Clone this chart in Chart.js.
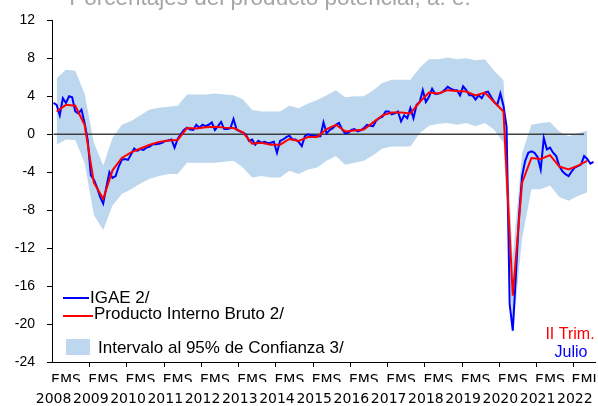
<!DOCTYPE html>
<html>
<head>
<meta charset="utf-8">
<script src="https://cdn.jsdelivr.net/npm/chart.js@4.4.1/dist/chart.umd.min.js"></script>
<style>
  html, body { margin: 0; padding: 0; background: #fff; }
  canvas { display: block; }
</style>
</head>
<body>
<canvas id="brecha" width="598" height="406"></canvas>
<script>
// Brecha del producto: IGAE mensual y PIB trimestral, ene-2008 a jul-2022

var anios = ['2008', '2009', '2010', '2011', '2012', '2013', '2014', '2015',
  '2016', '2017', '2018', '2019', '2020', '2021', '2022'];
var letrasMes = ['E', 'F', 'M', 'A', 'M', 'J', 'J', 'A', 'S', 'O', 'N', 'D'];

// IGAE, mensual
var igae = [
  3.3, 3.1, 2.0, 3.8, 3.3, 4.0, 3.9, 2.4, 2.2, 2.6, 1.2, -0.6,
  -4.3, -4.8, -5.6, -6.6, -7.3, -5.6, -4.0, -4.6, -4.4, -3.4, -2.7, -2.6,
  -2.7, -2.1, -1.5, -1.75, -1.55, -1.65, -1.4, -1.3, -1.05, -1.05, -1.0, -0.9,
  -0.7, -0.65, -0.55, -1.4, -0.5, 0.0, 0.45, 0.7, 0.5, 0.45, 1.0, 0.7,
  1.0, 0.85, 1.0, 1.25, 0.45, 0.85, 1.3, 0.55, 0.55, 0.65, 1.6, 0.5,
  0.3, 0.2, -0.05, -0.7, -0.55, -1.1, -0.7, -0.9, -0.8, -0.95, -0.9, -0.8,
  -1.95, -0.7, -0.55, -0.3, -0.15, -0.55, -0.55, -0.8, -1.25, -0.2, 0.0, -0.1,
  -0.15, -0.2, -0.2, 1.25, 0.1, 0.45, 0.65, 1.0, 1.2, 0.5, 0.1, 0.15,
  0.45, 0.55, 0.3, 0.4, 0.65, 1.0, 0.9, 0.85, 1.45, 1.7, 1.85, 2.4,
  2.4, 2.1, 2.2, 2.4, 1.35, 2.0, 1.7, 2.75, 1.7, 3.1, 3.4, 4.65,
  3.4, 3.95, 4.8, 4.25, 4.3, 4.4, 4.65, 5.0, 4.8, 4.65, 4.65, 4.1,
  5.05, 4.65, 4.1, 4.1, 3.65, 4.1, 3.8, 4.4, 4.5, 3.95, 3.4, 3.1,
  4.3, 3.0, 0.8, -17.9, -20.7, -14.9, -8.7, -4.4, -2.8, -1.95, -1.8, -1.95,
  -2.4, -3.7, -0.4, -1.6, -1.4, -1.95, -2.3, -3.35, -3.9, -4.2, -4.4, -3.9,
  -3.5, -3.35, -3.2, -2.3, -2.6, -3.1, -2.9
];

// PIB, trimestral (I-2008 a II-2022)
var pib = [
  2.4, 3.1, 3.0, 1.0,
  -5.1, -6.8, -3.8, -2.5,
  -1.9, -1.5, -1.1, -0.8,
  -0.65, -0.6, 0.65, 0.6,
  0.75, 0.8, 0.7, 0.65,
  0.2, -1.0, -0.9, -1.1,
  -1.1, -0.5, -0.7, -0.3,
  -0.3, 0.55, 1.0, 0.3,
  0.4, 0.5, 1.25, 2.0,
  2.3, 2.3, 2.2, 3.4,
  4.4, 4.3, 4.65, 4.55,
  4.5, 4.1, 4.4, 3.4,
  2.4, -17.0, -5.1, -2.5,
  -2.6, -2.2, -3.4, -3.7,
  -3.3, -2.8
];

// Intervalo al 95%, trimestral
var limiteSup = [
  5.9, 6.8, 6.7, 4.3,
  -0.9, -3.3, -0.4, 1.0,
  1.4, 2.0, 2.6, 2.8,
  2.9, 3.0, 4.2, 4.2,
  4.2, 4.3, 4.2, 4.1,
  3.7, 2.55, 2.4, 2.4,
  2.4, 3.0, 2.75, 3.25,
  3.6, 4.1, 4.65, 3.9,
  4.0, 4.0, 4.65, 5.4,
  5.75, 5.75, 5.75, 7.0,
  7.9, 7.9, 8.1, 7.9,
  8.0, 7.8, 7.9, 6.7,
  5.7, -13.0, -2.0, 1.0,
  1.2, 1.3, 0.3, -0.2,
  0.1, 0.4
];
var limiteInf = [
  -1.1, -0.55, -0.6, -3.0,
  -8.5, -10.1, -7.5, -6.3,
  -5.8, -5.2, -4.7, -4.4,
  -4.2, -4.2, -3.0, -3.0,
  -3.0, -3.0, -2.9, -2.8,
  -3.5, -4.55, -4.4, -4.55,
  -4.55, -3.85, -4.2, -3.7,
  -3.5, -2.8, -2.3, -3.2,
  -3.0, -2.8, -2.2, -1.5,
  -1.3, -1.3, -1.3, 0.1,
  0.9, 1.1, 1.2, 1.0,
  1.2, 0.85, 1.2, 0.5,
  -0.9, -21.0, -11.0, -5.8,
  -5.8, -5.4, -6.6, -7.0,
  -6.5, -6.1
];

var nombresSeries = ['IGAE 2/', 'Producto Interno Bruto 2/', 'Intervalo al 95% de Confianza 3/'];
var titulo = 'Porcentajes del producto potencial, a. e.';
var notaTrim = 'II Trim.';
var notaMes = 'Julio';

var AZUL = '#0000ff';
var ROJO = '#ff0000';
var BANDA = '#bdd7ee';

// mes 0 = enero 2008; trimestres en el mes central
var puntosMes = igae.map(function (v, i) { return { x: i, y: v }; });
var ptsTrim = function (arr) {
  return arr.map(function (v, i) { return { x: 3 * i + 1, y: v }; });
};
var ultimoMes = igae.length - 1;
var cero = igae.slice(0, 172).map(function (v, i) { return { x: i, y: 0 }; });

// por año: letras E M S (o E M J al final) centradas y marca en el cambio de año
var ticksLetras = [];
var ticksAnios = [];
var cortesAnio = [];
var textoLetras = {};
for (var k = 0; k < anios.length; k++) {
  var ini = 12 * k;
  var meses = [ini, ini + 4, Math.min(ini + 8, ultimoMes)];
  if (k > 0) cortesAnio.push(ini - 0.5);
  var centro = (meses[0] + meses[2]) / 2;
  textoLetras[centro] = meses.map(function (mm) { return letrasMes[mm % 12]; }).join('');
  ticksLetras.push({ value: centro });
  ticksAnios.push({ value: ini });
}

var fuenteEje = { family: '"DejaVu Sans", sans-serif', size: 14 };
var sinRelleno = function (s) { s.paddingLeft = 0; s.paddingRight = 0; };

// marcas del eje x en el cambio de año
var marcasAnio = {
  id: 'marcasAnio',
  afterDraw: function (chart) {
    var sx = chart.scales.x;
    var ctx = chart.ctx;
    ctx.save();
    ctx.strokeStyle = '#000';
    ctx.lineWidth = 1;
    cortesAnio.forEach(function (v) {
      var px = Math.round(sx.getPixelForValue(v)) + 0.5;
      ctx.beginPath();
      ctx.moveTo(px, sx.top);
      ctx.lineTo(px, sx.top + 5);
      ctx.stroke();
    });
    ctx.restore();
  }
};

// textos que no son de Chart.js: titulo cortado, leyenda interior y notas
var extras = {
  id: 'extras',
  afterDraw: function (chart) {
    var ctx = chart.ctx;
    var a = chart.chartArea;
    ctx.save();
    ctx.font = '22.5px "Liberation Sans", Arial, sans-serif';
    ctx.fillStyle = '#a6a6a6';
    ctx.textAlign = 'center';
    ctx.textBaseline = 'alphabetic';
    ctx.fillText(titulo, 270, 5);

    ctx.textAlign = 'left';
    ctx.textBaseline = 'middle';
    ctx.font = '17px "Liberation Sans", Arial, sans-serif';
    var x0 = a.left + 11;
    ctx.lineWidth = 2;
    ctx.strokeStyle = AZUL;
    ctx.beginPath(); ctx.moveTo(x0, 298); ctx.lineTo(x0 + 26, 298); ctx.stroke();
    ctx.strokeStyle = ROJO;
    ctx.beginPath(); ctx.moveTo(x0, 316); ctx.lineTo(x0 + 30, 316); ctx.stroke();
    ctx.fillStyle = BANDA;
    ctx.fillRect(x0 + 3, 339, 24, 16);
    ctx.fillStyle = '#000';
    ctx.fillText(nombresSeries[0], x0 + 27, 298);
    ctx.fillText(nombresSeries[1], x0 + 31, 314);
    ctx.fillText(nombresSeries[2], x0 + 35, 348);

    ctx.textAlign = 'center';
    ctx.font = '16px "Liberation Sans", Arial, sans-serif';
    ctx.fillStyle = ROJO;
    ctx.fillText(notaTrim, 570, 335);
    ctx.fillStyle = AZUL;
    ctx.fillText(notaMes, 571, 353);
    ctx.restore();
  }
};

var grafica = new Chart(document.getElementById('brecha'), {
  type: 'line',
  data: {
    datasets: [
      { label: nombresSeries[1], data: ptsTrim(pib), borderColor: ROJO, borderWidth: 2, order: 0 },
      { label: nombresSeries[0], data: puntosMes, borderColor: AZUL, borderWidth: 2, order: 1 },
      { label: 'cero', data: cero, borderColor: '#404040', borderWidth: 1.5, order: 2 },
      { label: nombresSeries[2], data: ptsTrim(limiteSup), borderWidth: 0, borderColor: 'rgba(0,0,0,0)',
        backgroundColor: BANDA, fill: 4, order: 3 },
      { label: 'inf', data: ptsTrim(limiteInf), borderWidth: 0, borderColor: 'rgba(0,0,0,0)', order: 4 }
    ]
  },
  options: {
    responsive: false,
    animation: false,
    devicePixelRatio: 1,
    elements: { point: { radius: 0 }, line: { tension: 0 } },
    layout: { padding: { top: 16, right: 3, left: 0, bottom: 0 } },
    plugins: { legend: { display: false }, tooltip: { enabled: false }, title: { display: false } },
    scales: {
      x: {
        type: 'linear', position: 'bottom', min: -0.5, max: ultimoMes + 0.5,
        afterBuildTicks: function (s) { s.ticks = ticksLetras.slice(); },
        afterFit: function (s) { s.height = 20; sinRelleno(s); },
        grid: { drawOnChartArea: false, tickLength: 5, color: 'rgba(0,0,0,0)' },
        border: { color: '#000', width: 1 },
        ticks: {
          autoSkip: false, maxRotation: 0, minRotation: 0, padding: 5,
          color: '#000', font: fuenteEje,
          callback: function (v) { return textoLetras[v] || ''; }
        }
      },
      x2: {
        type: 'linear', position: 'bottom', min: -0.5, max: ultimoMes + 0.5,
        afterBuildTicks: function (s) { s.ticks = ticksAnios.slice(); },
        afterFit: function (s) { s.height = 24; sinRelleno(s); },
        grid: { display: false, drawTicks: false },
        border: { display: false },
        ticks: {
          autoSkip: false, maxRotation: 0, minRotation: 0, padding: 9,
          color: '#000', font: fuenteEje,
          callback: function (v) { return anios[Math.round(v / 12)]; }
        }
      },
      y: {
        min: -24, max: 12,
        afterFit: function (s) { s.width = 52; },
        grid: { drawOnChartArea: false, tickLength: 5, color: '#000' },
        border: { color: '#000', width: 1 },
        ticks: {
          stepSize: 4, padding: 12, color: '#000',
          font: { family: '"Liberation Sans", Arial, sans-serif', size: 14 }
        }
      }
    }
  },
  plugins: [marcasAnio, extras]
});
</script>
</body>
</html>
